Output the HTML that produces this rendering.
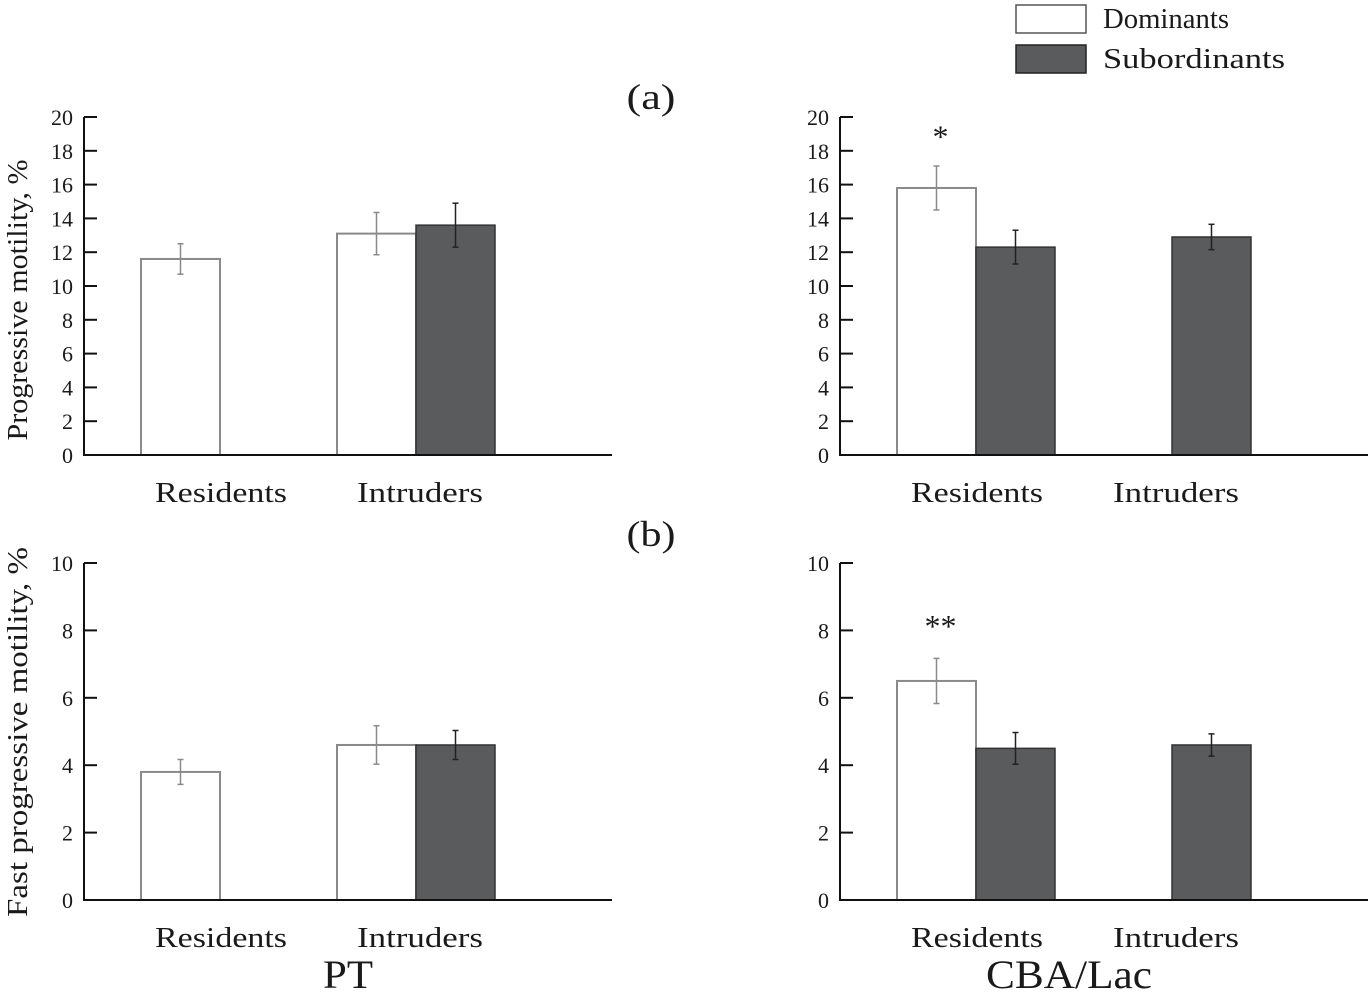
<!DOCTYPE html>
<html><head><meta charset="utf-8">
<style>
html,body{margin:0;padding:0;background:#fff;}
svg text{font-family:"Liberation Serif",serif;fill:#1a1a1a;}
</style></head>
<body>
<svg id="chart" width="1371" height="1001" viewBox="0 0 1371 1001" xmlns="http://www.w3.org/2000/svg"></svg>
<script>
const categories = ["Residents","Intruders"];
const progDomPT = [11.6, 13.1];
const progDomPTErr = [0.9, 1.25];
const progSubPT = [null, 13.6];
const progSubPTErr = [null, 1.3];
const progDomCBA = [15.8, null];
const progDomCBAErr = [1.3, null];
const progSubCBA = [12.3, 12.9];
const progSubCBAErr = [1.0, 0.75];
const fastDomPT = [3.8, 4.6];
const fastDomPTErr = [0.37, 0.57];
const fastSubPT = [null, 4.6];
const fastSubPTErr = [null, 0.43];
const fastDomCBA = [6.5, null];
const fastDomCBAErr = [0.67, null];
const fastSubCBA = [4.5, 4.6];
const fastSubCBAErr = [0.47, 0.33];
const progTicks = [0,2,4,6,8,10,12,14,16,18,20];
const fastTicks = [0,2,4,6,8,10];

const svg = document.getElementById('chart');
const NS = 'http://www.w3.org/2000/svg';
function mk(tag, attrs, parent){
  const e = document.createElementNS(NS, tag);
  for (const k in attrs) e.setAttribute(k, attrs[k]);
  (parent||svg).appendChild(e);
  return e;
}
function panel(name, ax, y0, y1, max, ticks, dom, domErr, sub, subErr, stars){
  const g = mk('g', {});
  
  
  const y = v => y0 - (y0 - y1) * v / max;
  const groupX = [ax + 57, ax + 253];
  const bw = 79;
  const labelCx = [ax + 137, ax + 336];
  for (let i = 0; i < categories.length; i++) {
    if (dom[i] != null) {
      const r = mk('rect', {x: groupX[i], y: y(dom[i]), width: bw, height: y0 - y(dom[i]), fill: '#fff', stroke: '#8a8a8a', 'stroke-width': 2}, g);
      
      
      const cx = groupX[i] + bw/2;
      mk('line', {x1: cx, x2: cx, y1: y(dom[i] - domErr[i]), y2: y(dom[i] + domErr[i]), stroke: '#8a8a8a', 'stroke-width': 1.5}, g);
      mk('line', {x1: cx - 3, x2: cx + 3, y1: y(dom[i] + domErr[i]), y2: y(dom[i] + domErr[i]), stroke: '#8a8a8a', 'stroke-width': 1.5}, g);
      mk('line', {x1: cx - 3, x2: cx + 3, y1: y(dom[i] - domErr[i]), y2: y(dom[i] - domErr[i]), stroke: '#8a8a8a', 'stroke-width': 1.5}, g);
    }
    if (sub[i] != null) {
      const sx = groupX[i] + bw;
      const r = mk('rect', {x: sx, y: y(sub[i]), width: bw, height: y0 - y(sub[i]), fill: '#5a5b5d', stroke: '#333', 'stroke-width': 1.5}, g);
      
      
      const cx = sx + bw/2;
      mk('line', {x1: cx, x2: cx, y1: y(sub[i] - subErr[i]), y2: y(sub[i] + subErr[i]), stroke: '#222', 'stroke-width': 1.5}, g);
      mk('line', {x1: cx - 3, x2: cx + 3, y1: y(sub[i] + subErr[i]), y2: y(sub[i] + subErr[i]), stroke: '#222', 'stroke-width': 1.5}, g);
      mk('line', {x1: cx - 3, x2: cx + 3, y1: y(sub[i] - subErr[i]), y2: y(sub[i] - subErr[i]), stroke: '#222', 'stroke-width': 1.5}, g);
    }
    const t = mk('text', {x: labelCx[i], y: y0 + 47, 'font-size': 28, 'text-anchor': 'middle', textLength: i === 0 ? 132 : 126, lengthAdjust: 'spacingAndGlyphs'}, g);
    t.textContent = categories[i];
    
    
  }
  mk('line', {x1: ax, x2: ax, y1: y1, y2: y0 + 1, stroke: '#111', 'stroke-width': 2}, g);
  mk('line', {x1: ax, x2: ax + 528, y1: y0, y2: y0, stroke: '#111', 'stroke-width': 2}, g);
  ticks.forEach(v => {
    mk('line', {x1: ax, x2: ax + 13, y1: y(v), y2: y(v), stroke: '#111', 'stroke-width': 2}, g);
    const t = mk('text', {x: ax - 11, y: y(v) + 8, 'font-size': 22, 'text-anchor': 'end'}, g);
    t.textContent = v;
  });
  if (stars) {
    const t = mk('text', {x: groupX[0] + bw/2 + 4, y: y(stars[1]), 'font-size': 32, 'text-anchor': 'middle'}, g);
    t.textContent = stars[0];
    
    
  }
}
panel('panel-a-pt', 84, 455, 117, 20, progTicks, progDomPT, progDomPTErr, progSubPT, progSubPTErr, null);
panel('panel-a-cba', 840, 455, 117, 20, progTicks, progDomCBA, progDomCBAErr, progSubCBA, progSubCBAErr, ['*', 18.2]);
panel('panel-b-pt', 84, 900, 563, 10, fastTicks, fastDomPT, fastDomPTErr, fastSubPT, fastSubPTErr, null);
panel('panel-b-cba', 840, 900, 563, 10, fastTicks, fastDomCBA, fastDomCBAErr, fastSubCBA, fastSubCBAErr, ['**', 7.8]);

function txt(s, attrs, name){
  const t = mk('text', Object.assign({lengthAdjust: 'spacingAndGlyphs'}, attrs));
  t.textContent = s;
  
  
  return t;
}
txt('(a)', {x: 651, y: 109, 'font-size': 36, 'text-anchor': 'middle', textLength: 49}, 'panel-a-label');
txt('(b)', {x: 651, y: 546, 'font-size': 36, 'text-anchor': 'middle', textLength: 49}, 'panel-b-label');
txt('PT', {x: 348, y: 988, 'font-size': 40, 'text-anchor': 'middle', textLength: 50}, 'strain-pt-label');
txt('CBA/Lac', {x: 1069, y: 988, 'font-size': 40, 'text-anchor': 'middle', textLength: 166}, 'strain-cba-label');
txt('Progressive motility, %', {x: 0, y: 0, 'font-size': 28, 'text-anchor': 'middle', textLength: 281, transform: 'translate(27,300) rotate(-90)'}, 'y-axis-title-a');
txt('Fast progressive motility, %', {x: 0, y: 0, 'font-size': 28, 'text-anchor': 'middle', textLength: 370, transform: 'translate(27,732) rotate(-90)'}, 'y-axis-title-b');
const l1 = mk('rect', {x: 1016, y: 5, width: 70, height: 28, fill: '#fff', stroke: '#555', 'stroke-width': 1.5});


const l2 = mk('rect', {x: 1016, y: 45, width: 70, height: 28, fill: '#5a5b5d', stroke: '#222', 'stroke-width': 1.5});


txt('Dominants', {x: 1103, y: 28, 'font-size': 29, textLength: 126}, 'legend-entry-dominants');
txt('Subordinants', {x: 1103, y: 68, 'font-size': 29, textLength: 182}, 'legend-entry-subordinants');
</script>
</body></html>
